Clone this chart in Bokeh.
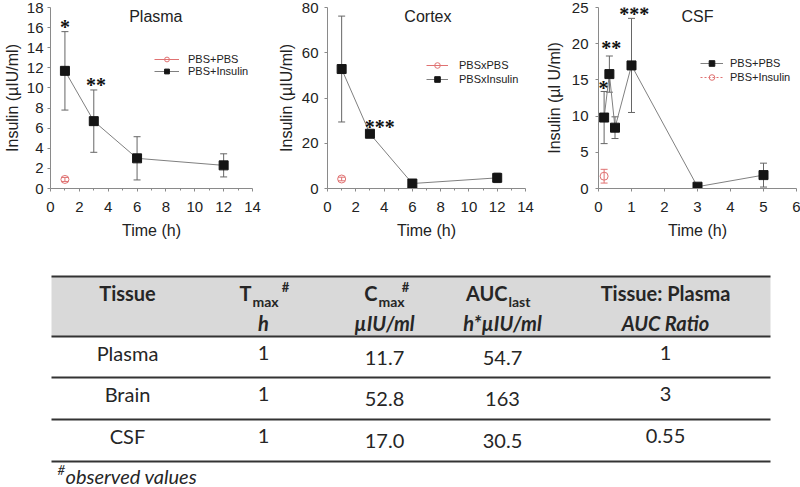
from bokeh.plotting import figure
from bokeh.models import (Range1d, Whisker, ColumnDataSource, Legend, LegendItem,
                          Label, LabelSet, TeeHead, FixedTicker)
from bokeh.layouts import column, row
from bokeh.embed import file_html
from bokeh.resources import INLINE
from bokeh.core.properties import value

# ---------------- data ----------------
plasma_t = [1, 3, 6, 12]
plasma_ins = [11.7, 6.7, 3.0, 2.3]
plasma_ins_err = [3.9, 3.1, 2.15, 1.15]
plasma_pbs_t = [1]
plasma_pbs = [0.9]
plasma_pbs_err = [0.2]
plasma_sig_t = [1, 3.15]
plasma_sig_y = [16.2, 10.4]
plasma_sig = ["*", "**"]

cortex_t = [1, 3, 6, 12]
cortex_ins = [52.8, 24.2, 2.2, 4.7]
cortex_ins_err = [23.4, 1.0, 0.5, 2.1]
cortex_pbs_t = [1]
cortex_pbs = [4.2]
cortex_pbs_err = [0.8]
cortex_sig_t = [3.7]
cortex_sig_y = [27.7]
cortex_sig = ["***"]

csf_t = [0.17, 0.33, 0.5, 1, 3, 5]
csf_ins = [9.8, 15.8, 8.4, 17.0, 0.25, 1.85]
csf_ins_err = [3.6, 2.5, 1.5, 6.5, 0.2, 1.65]
csf_pbs_t = [0.17]
csf_pbs = [1.7]
csf_pbs_err = [0.95]
csf_sig_t = [0.15, 0.39, 1.08]
csf_sig_y = [14.0, 19.5, 24.3]
csf_sig = ["*", "**", "***"]

tissues = ["Plasma", "Brain", "CSF"]
tmax_vals = ["1", "1", "1"]
cmax_vals = ["11.7", "52.8", "17.0"]
auc_vals = ["54.7", "163", "30.5"]
ratio_vals = ["1", "3", "0.55"]

FONT = "Liberation Sans"
TFONT = "Lato"
SQ = "#151515"
PINK = "#e07272"
GRAY = "#808080"
AX = "#8a8a8a"
TXT = "#222222"


def add_whisker(p, t, y, e, color):
    src = ColumnDataSource(dict(x=t, lo=[a - b for a, b in zip(y, e)],
                                hi=[a + b for a, b in zip(y, e)]))
    w = Whisker(source=src, base="x", lower="lo", upper="hi", dimension="height",
                line_color=color, line_width=1, level="underlay",
                upper_head=TeeHead(size=7, line_color=color, line_width=1),
                lower_head=TeeHead(size=7, line_color=color, line_width=1))
    p.add_layout(w)


def make_chart(width, left, right, xmax, xticks, xminor, ymax, yticks, ylabel,
               title, title_x, title_y, ins, pbs, sig, labels, legend_loc,
               gw, gh, standoff, pbs_first, pbs_dash, ystand):
    p = figure(width=width, height=244, output_backend="svg", toolbar_location=None,
               x_range=Range1d(0, xmax), y_range=Range1d(0, ymax),
               min_border_left=left, min_border_right=right,
               min_border_top=7, min_border_bottom=56)
    p.grid.visible = False
    p.outline_line_color = None
    p.xaxis.ticker = FixedTicker(ticks=xticks, minor_ticks=xminor)
    p.yaxis.ticker = FixedTicker(ticks=yticks)
    p.xaxis.axis_label = "Time (h)"
    p.yaxis.axis_label = ylabel
    for ax in (p.xaxis[0], p.yaxis[0]):
        ax.axis_line_color = AX
        ax.major_tick_line_color = AX
        ax.minor_tick_line_color = AX
        ax.major_tick_out = 3
        ax.major_tick_in = 0
        ax.minor_tick_out = 2
        ax.minor_tick_in = 0
        ax.major_label_text_font = FONT
        ax.major_label_text_font_size = "15px"
        ax.major_label_text_color = TXT
        ax.axis_label_text_font = FONT
        ax.axis_label_text_font_size = "16px"
        ax.axis_label_text_font_style = "normal"
        ax.axis_label_text_color = TXT
    p.xaxis.major_label_standoff = 10
    p.xaxis.axis_label_standoff = 7
    p.yaxis.major_label_standoff = ystand[0]
    p.yaxis.axis_label_standoff = ystand[1]
    p.yaxis.minor_tick_line_color = None

    t, y, e = ins
    add_whisker(p, t, y, e, "#666666")
    l_ins = p.line(t, y, line_color=GRAY, line_width=1)
    s_ins = p.scatter(t, y, marker="square", size=9, fill_color=SQ, line_color=SQ)

    pt, py, pe = pbs
    add_whisker(p, pt, py, pe, PINK)
    l_pbs = p.line(pt, py, line_color=PINK, line_width=1,
                   line_dash=pbs_dash if pbs_dash else "solid")
    s_pbs = p.scatter(pt, py, marker="circle", size=8, fill_color=None,
                      line_color=PINK, line_width=1)

    st, sy, ss = sig
    ssrc = ColumnDataSource(dict(x=st, y=sy, text=ss))
    p.add_layout(LabelSet(x="x", y="y", text="text", source=ssrc,
                          text_font=FONT, text_font_size="20px",
                          text_font_style="bold", text_align="center",
                          text_baseline="middle", text_color="#111111",
                          y_offset=-1))

    p.add_layout(Label(x=title_x, y=title_y, text=title, text_font=FONT,
                       text_font_size="16px", text_align="center",
                       text_baseline="middle", text_color=TXT))

    it_pbs = LegendItem(label=labels[0] if pbs_first else labels[1],
                        renderers=[l_pbs, s_pbs])
    it_ins = LegendItem(label=labels[1] if pbs_first else labels[0],
                        renderers=[l_ins, s_ins])
    items = [it_pbs, it_ins] if pbs_first else [it_ins, it_pbs]
    leg = Legend(items=items, location=legend_loc, glyph_width=gw, glyph_height=gh,
                 label_height=gh, label_standoff=standoff, padding=0, spacing=0,
                 margin=0, border_line_color=None, background_fill_alpha=0,
                 label_text_font=FONT, label_text_font_size="11px",
                 label_text_color=TXT, label_text_baseline="middle")
    p.add_layout(leg)
    return p


p1 = make_chart(268, 49, 16, 14, list(range(0, 15, 2)), list(range(1, 14, 2)),
                18, list(range(0, 19, 2)), "Insulin (µIU/ml)",
                "Plasma", 7.3, 17.1,
                (plasma_t, plasma_ins, plasma_ins_err),
                (plasma_pbs_t, plasma_pbs, plasma_pbs_err),
                (plasma_sig_t, plasma_sig_y, plasma_sig),
                ["PBS+PBS", "PBS+Insulin"], (104, 111), 25, 12, 9, True, None, (4, 3))

p2 = make_chart(268, 59, 11, 14, list(range(0, 15, 2)), list(range(1, 14, 2)),
                80, list(range(0, 81, 20)), "Insulin (µIU/ml)",
                "Cortex", 7.1, 76,
                (cortex_t, cortex_ins, cortex_ins_err),
                (cortex_pbs_t, cortex_pbs, cortex_pbs_err),
                (cortex_sig_t, cortex_sig_y, cortex_sig),
                ["PBSxPBS", "PBSxInsulin"], (99, 102), 22, 14, 11, True, None, (6, 4))

p3 = make_chart(264, 62, 4, 6, list(range(0, 7)), [],
                25, list(range(0, 26, 5)), "Insulin (µl U/ml)",
                "CSF", 3.0, 23.7,
                (csf_t, csf_ins, csf_ins_err),
                (csf_pbs_t, csf_pbs, csf_pbs_err),
                (csf_sig_t, csf_sig_y, csf_sig),
                ["PBS+PBS", "PBS+Insulin"], (102, 104), 23, 14, 7, False, "2 2", (7, 6))

# ---------------- table ----------------
TH = 243
tab = figure(width=800, height=TH, output_backend="svg", toolbar_location=None,
             x_range=Range1d(0, 800), y_range=Range1d(TH, 0),
             x_axis_location=None, y_axis_location=None, min_border=0)
tab.grid.visible = False
tab.outline_line_color = None

line_y = [32, 92, 133, 175, 217]
tab.quad(left=[51], right=[770], top=[32], bottom=[92], fill_color="#d9d9d9",
         line_color=None)
tab.segment(x0=[51] * 5, x1=[770] * 5, y0=line_y, y1=line_y,
            line_color="#333333", line_width=2)

TC = "#262626"


def ttext(x, y, s, size="20px", style="normal", align="center"):
    tab.text(x=x, y=y, text=s, text_font=value(TFONT), text_font_size=size,
             text_font_style=style, text_align=align, text_baseline="middle",
             text_color=TC)


col_x = [127, 263, 384, 502, 665]
col_dy = [0, 0, 5, 5, 0]
row_y = [108, 149, 191]

# header
ttext([127], [48], ["Tissue"], style="bold")
ttext([251], [48], ["T"], style="bold", align="right")
ttext([252], [57], ["max"], size="14px", style="bold", align="left")
ttext([285], [42], ["#"], size="13px", style="bold")
ttext([263], [78], ["h"], style="bold italic")
ttext([377], [48], ["C"], style="bold", align="right")
ttext([378], [57], ["max"], size="14px", style="bold", align="left")
ttext([405], [42], ["#"], size="13px", style="bold")
ttext([384], [78], ["µIU/ml"], style="bold italic")
ttext([507], [48], ["AUC"], style="bold", align="right")
ttext([508], [57], ["last"], size="14px", style="bold", align="left")
ttext([502], [78], ["h*µIU/ml"], style="bold italic")
ttext([665], [48], ["Tissue: Plasma"], style="bold")
ttext([665], [78], ["AUC Ratio"], style="bold italic")

# body
for ci, vals in enumerate([tissues, tmax_vals, cmax_vals, auc_vals, ratio_vals]):
    ttext([col_x[ci]] * len(vals), [r + col_dy[ci] for r in row_y], vals)

# footnote
ttext([57], [225], ["#"], size="13px", style="italic", align="left")
ttext([65], [231], ["observed values"], style="italic", align="left")

layout = column(row(p1, p2, p3, spacing=0), tab, spacing=0)
open("out.html", "w").write(file_html(layout, INLINE))
